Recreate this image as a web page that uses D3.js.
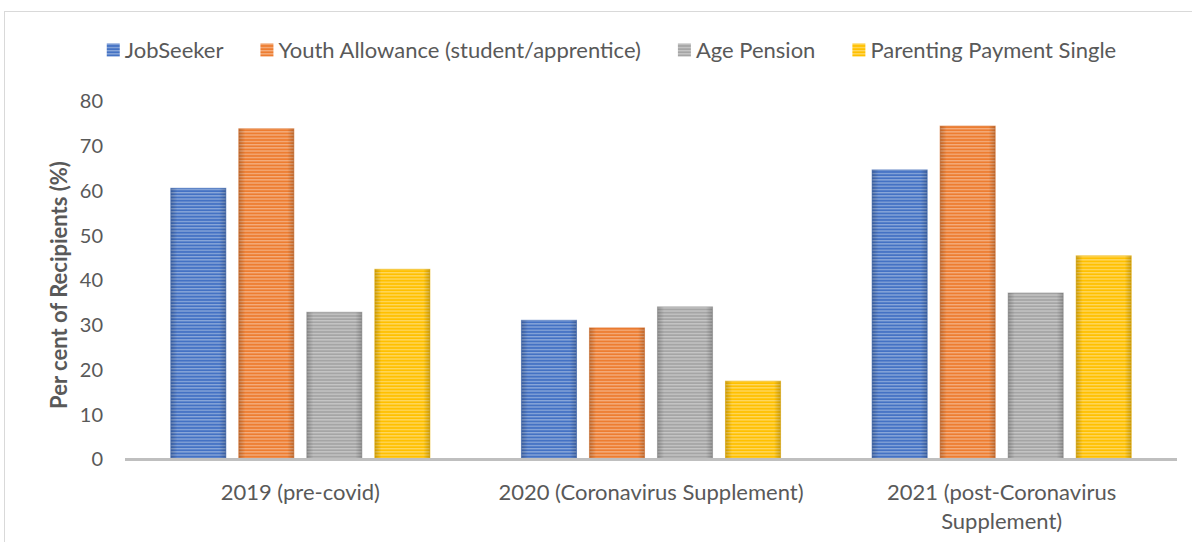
<!DOCTYPE html>
<html>
<head>
<meta charset="utf-8">
<script src="https://cdn.jsdelivr.net/npm/d3@7"></script>
<style>
  html, body { margin: 0; padding: 0; background: #ffffff; }
  svg { display: block; }
  text { font-family: Lato, "Open Sans", sans-serif; fill: #595959; }
</style>
</head>
<body>
<svg id="chart" width="1192" height="542"></svg>
<script>
// ---- data ----
const categories = ["2019 (pre-covid)", "2020 (Coronavirus Supplement)", "2021 (post-Coronavirus Supplement)"];
const seriesNames = ["JobSeeker", "Youth Allowance (student/apprentice)", "Age Pension", "Parenting Payment Single"];
const jobSeeker = [60.5, 31.0, 64.6];
const youthAllowance = [73.8, 29.3, 74.4];
const agePension = [32.8, 34.0, 37.1];
const parentingPayment = [42.4, 17.4, 45.4];
const yTicks = [0, 10, 20, 30, 40, 50, 60, 70, 80];
const yTitle = "Per cent of Recipients (%)";
const seriesColors = ["#4472C4", "#ED7D31", "#A5A5A5", "#FFC000"];

const seriesValues = [jobSeeker, youthAllowance, agePension, parentingPayment];

// ---- layout ----
const svg = d3.select("#chart");
const W = 1192, H = 542;
const plot = { left: 125, right: 1177, top: 101, bottom: 459 };
const FS = 22;

// frame
svg.append("rect")
  .attr("x", 4.5).attr("y", 11.5)
  .attr("width", W + 10).attr("height", H + 10)
  .attr("fill", "none").attr("stroke", "#d9d9d9").attr("stroke-width", 1);

const y = d3.scaleLinear().domain([0, 80]).range([plot.bottom, plot.top]);
const x0 = d3.scaleBand().domain(categories).range([plot.left, plot.right])
  .paddingInner(0.261).paddingOuter(0.1305);
const x1 = d3.scaleBand().domain(seriesNames).range([0, x0.bandwidth()]).paddingInner(0.19);

// patterns
const defs = svg.append("defs");
seriesColors.forEach((c, i) => {
  const p = defs.append("pattern")
    .attr("id", "pat" + i)
    .attr("patternUnits", "userSpaceOnUse")
    .attr("width", 8).attr("height", 3.2);
  p.append("rect").attr("width", 8).attr("height", 3.2).attr("fill", c);
  p.append("rect").attr("y", 0).attr("width", 8).attr("height", 1.3)
    .attr("fill", d3.interpolateRgb(c, "#ffffff")(0.38));
});
const edge = defs.append("linearGradient").attr("id", "edge")
  .attr("x1", "0").attr("x2", "1").attr("y1", "0").attr("y2", "0");
[[0, 0.2], [0.12, 0], [0.88, 0], [1, 0.2]].forEach(([o, a]) =>
  edge.append("stop").attr("offset", o).attr("stop-color", "#000").attr("stop-opacity", a));

// bars
const groups = svg.append("g").selectAll("g")
  .data(categories)
  .join("g")
  .attr("transform", d => `translate(${x0(d)},0)`);

groups.each(function(cat, ci) {
  const g = d3.select(this);
  seriesNames.forEach((s, si) => {
    const v = seriesValues[si][ci];
    g.append("rect")
      .attr("x", x1(s)).attr("y", y(v))
      .attr("width", x1.bandwidth()).attr("height", y(0) - y(v))
      .attr("fill", `url(#pat${si})`)
      .attr("stroke", d3.color(seriesColors[si]).darker(0.2))
      .attr("stroke-opacity", 0.6)
      .attr("stroke-width", 1);
    g.append("rect")
      .attr("x", x1(s)).attr("y", y(v))
      .attr("width", x1.bandwidth()).attr("height", y(0) - y(v))
      .attr("fill", "url(#edge)");
  });
});

// x axis line
svg.append("line")
  .attr("x1", plot.left).attr("x2", plot.right)
  .attr("y1", y(0) + 0.5).attr("y2", y(0) + 0.5)
  .attr("stroke", "#bfbfbf").attr("stroke-width", 3);

// y axis tick labels (no line, no ticks)
const yAxis = d3.axisLeft(y).tickValues(yTicks).tickSize(0).tickPadding(0);
const yg = svg.append("g").attr("transform", `translate(${103},0)`).call(yAxis);
yg.select(".domain").remove();
yg.selectAll("text")
  .attr("font-family", "Lato, sans-serif")
  .attr("font-size", 20)
  .attr("fill", "#595959")
  .attr("dy", "0.34em");

// y title
svg.append("text")
  .attr("transform", `translate(58,${(plot.top + plot.bottom) / 2 + 5}) rotate(-90)`)
  .attr("text-anchor", "middle")
  .attr("dominant-baseline", "central")
  .attr("font-size", 22)
  .attr("font-weight", "bold")
  .text(yTitle);

// x category labels with wrapping
function wrapLines(text, maxW, size) {
  const tmp = svg.append("text").attr("font-size", size);
  const words = text.split(" ");
  const lines = [];
  let cur = "";
  words.forEach(w => {
    const test = cur ? cur + " " + w : w;
    tmp.text(test);
    if (tmp.node().getComputedTextLength() > maxW && cur) { lines.push(cur); cur = w; }
    else cur = test;
  });
  if (cur) lines.push(cur);
  tmp.remove();
  return lines;
}
categories.forEach(cat => {
  const lines = wrapLines(cat, 330, FS);
  const t = svg.append("text")
    .attr("x", x0(cat) + x0.bandwidth() / 2)
    .attr("y", 492)
    .attr("text-anchor", "middle")
    .attr("font-size", FS);
  lines.forEach((ln, i) => {
    t.append("tspan")
      .attr("x", x0(cat) + x0.bandwidth() / 2)
      .attr("y", 492 + i * 29)
      .attr("dy", "0.35em")
      .text(ln);
  });
});

// legend
const legend = svg.append("g");
let lx = 0;
seriesNames.forEach((s, i) => {
  const g = legend.append("g").attr("transform", `translate(${lx},0)`);
  g.append("rect").attr("x", 0).attr("y", -6.5).attr("width", 13).attr("height", 13)
    .attr("fill", `url(#pat${i})`);
  const t = g.append("text").attr("x", 18).attr("y", 0).attr("dy", "0.35em")
    .attr("font-size", FS).text(s);
  lx += 18 + t.node().getComputedTextLength() + 37;
});
const legendW = lx - 37;
legend.attr("transform", `translate(${611.5 - legendW / 2},50)`);
</script>
</body>
</html>
